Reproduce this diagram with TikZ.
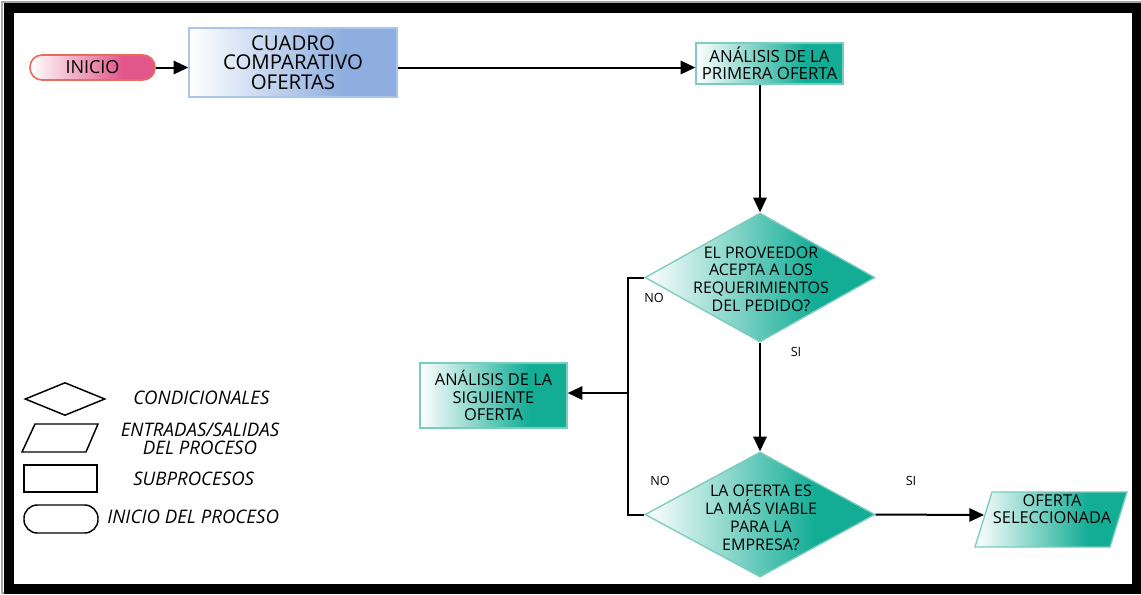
\documentclass[tikz,border=0pt]{standalone}
\usepackage{fontspec}
\setmainfont{Open Sans}
\usetikzlibrary{arrows.meta,shapes.geometric}
\definecolor{tealc}{HTML}{13AD96}
\definecolor{tealb}{HTML}{7ACCBE}
\definecolor{pinkc}{HTML}{E2578A}
\definecolor{pinkb}{HTML}{EA6A5E}
\definecolor{bluec}{HTML}{8EAEDF}
\definecolor{blueb}{HTML}{A8C6EC}
\pgfdeclarehorizontalshading{tealgrad}{100bp}{color(0bp)=(white); color(25bp)=(white); color(62bp)=(tealc); color(100bp)=(tealc)}
\pgfdeclarehorizontalshading{pinkgrad}{100bp}{color(0bp)=(white); color(25bp)=(white); color(62bp)=(pinkc); color(100bp)=(pinkc)}
\pgfdeclarehorizontalshading{bluegrad}{100bp}{color(0bp)=(white); color(25bp)=(white); color(62bp)=(bluec); color(100bp)=(bluec)}
\tikzset{
  conn/.style={draw=black, line width=1.5pt},
  arr/.style={conn, -{Triangle[length=11pt,width=10pt]}},
  tealbox/.style={draw=tealb, line width=1pt, shading=tealgrad, inner sep=0pt, align=center, font=\fontsize{12.3}{13}\selectfont},
  tealdia/.style={diamond, draw=tealb, line width=1pt, shading=tealgrad, inner sep=0pt},
  diatext/.style={align=center, font=\fontsize{12}{13.2}\selectfont},
  lbl/.style={font=\fontsize{9.5}{11}\selectfont},
  leg/.style={draw=black, line width=1.1pt},
  legtext/.style={font=\itshape\fontsize{14}{13.5}\selectfont, align=center}
}
\begin{document}
\begin{tikzpicture}[x=0.75pt,y=-0.75pt]
\useasboundingbox (0,0) rectangle (1141,594);
\fill[white] (0,0) rectangle (1141,594);
\draw[gray!70, line width=0.8pt] (2,2) rectangle (1140,593);
\draw[black, line width=7pt] (9,8) rectangle (1137,589);

% nodes
\node[draw=pinkb, line width=1.2pt, shading=pinkgrad, rounded corners=9pt,
      minimum width=93.75pt, minimum height=18.75pt, inner sep=0pt,
      font=\fontsize{13.5}{14}\selectfont] (inicio) at (92.5,67.5) {INICIO};
\node[draw=blueb, line width=1pt, shading=bluegrad, minimum width=156pt, minimum height=51.75pt,
      inner sep=0pt, align=center, font=\fontsize{15.3}{14.6}\selectfont] (cuadro) at (293,62.5)
      {CUADRO\\COMPARATIVO\\OFERTAS};
\node[tealbox, minimum width=110.25pt, minimum height=30.75pt, font=\fontsize{12.6}{12.75}\selectfont] (primera) at (769.5,63.5)
      {ANÁLISIS DE LA\\PRIMERA OFERTA};
\node[tealdia, minimum width=172.5pt, minimum height=96.75pt] (d1) at (760,277.5) {};
\node[diatext] (d1t) at (761,279) {EL PROVEEDOR\\ACEPTA A LOS\\REQUERIMIENTOS\\DEL PEDIDO?};
\node[tealbox, minimum width=110.25pt, minimum height=48.75pt] (siguiente) at (493.5,395.5)
      {ANÁLISIS DE LA\\SIGUIENTE\\OFERTA};
\node[tealdia, minimum width=172.5pt, minimum height=93.75pt] (d2) at (760,514.5) {};
\node[diatext, font=\fontsize{12}{13.5}\selectfont] (d2t) at (761,517.5) {LA OFERTA ES\\LA MÁS VIABLE\\PARA LA\\EMPRESA?};
\path[draw=tealb, line width=1pt, shading=tealgrad] (992,492) -- (1127,492) -- (1110,547) -- (975,547) -- cycle;
\node[align=center, inner sep=0pt, font=\fontsize{12.3}{12.75}\selectfont] (oferta) at (1052,509.5)
      {OFERTA\\SELECCIONADA};
\coordinate (ofl) at (984,515);

% connectors
\coordinate (nox) at (628,393);
\draw[arr] (inicio.east) -- (inicio.east -| cuadro.west);
\draw[arr] (cuadro.east |- inicio.east) -- (primera.west |- inicio.east);
\draw[arr] (d1.north |- primera.south) -- (d1.north);
\draw[arr] (d1.south) -- (d2.north);
\draw[conn] (d1.west) -| (nox) |- (d2.west);
\draw[arr] (nox) -- (nox -| siguiente.east);
\draw[arr] (d2.east) -- (ofl);

% labels
\node[lbl] (no1) at (654,298) {NO};
\node[lbl] (si1) at (796,352) {SI};
\node[lbl] (no2) at (660,481) {NO};
\node[lbl] (si2) at (911,481) {SI};

% legend
\node[diamond, leg, minimum width=60pt, minimum height=24.75pt, inner sep=0pt] (lgd) at (65,399) {};
\node[legtext, anchor=west, inner sep=0pt] (lgdt) at (133,398) {CONDICIONALES};
\draw[leg] (35,424) -- (98,424) -- (86,452) -- (22,452) -- cycle;
\node[legtext, inner sep=0pt] (lgpt) at (200,439) {ENTRADAS/SALIDAS\\DEL PROCESO};
\node[rectangle, leg, minimum width=54.75pt, minimum height=20.25pt, inner sep=0pt] (lgr) at (60.5,478.5) {};
\node[legtext, anchor=west, inner sep=0pt] (lgrt) at (133,479) {SUBPROCESOS};
\node[leg, rounded corners=10pt, minimum width=55.5pt, minimum height=21pt, inner sep=0pt] (lgo) at (61,519) {};
\node[legtext, anchor=west, inner sep=0pt] (lgot) at (107,517) {INICIO DEL PROCESO};
\end{tikzpicture}
\end{document}
